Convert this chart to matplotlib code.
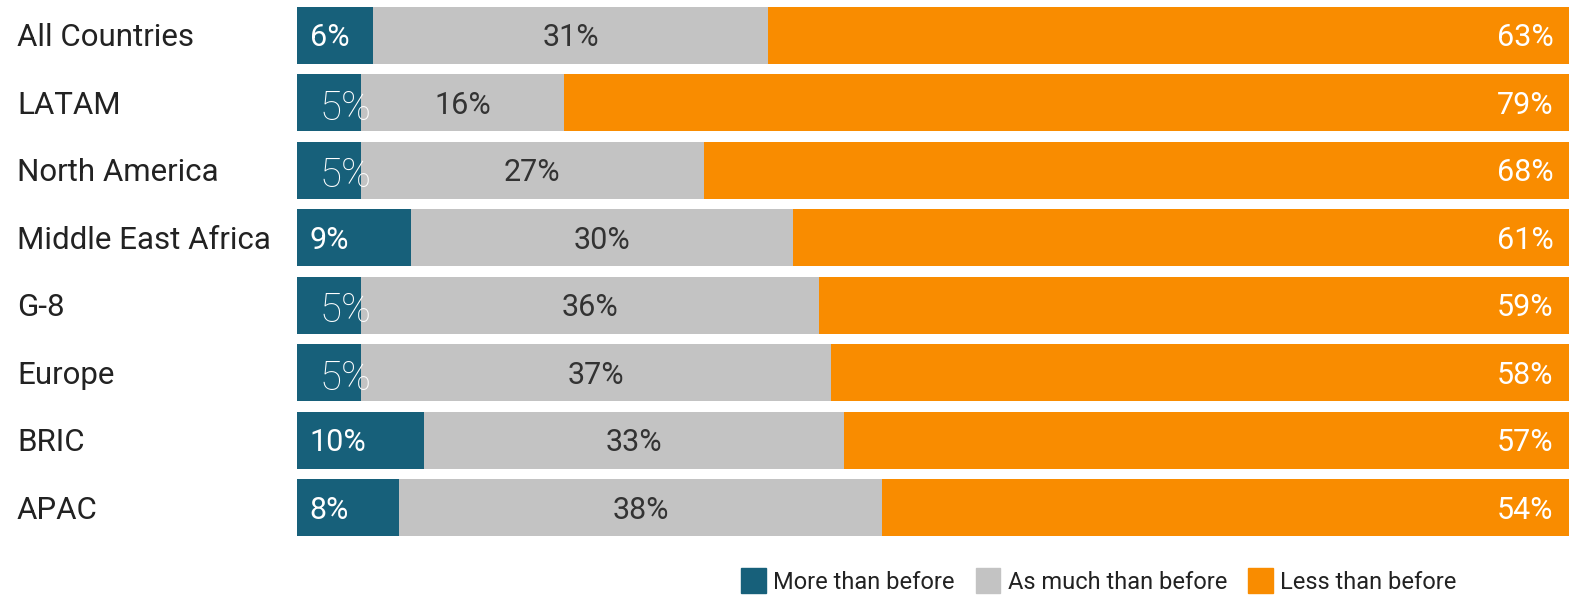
import numpy as np
import matplotlib
matplotlib.use("Agg")
from matplotlib import pyplot as plt
from matplotlib.patches import Patch
from matplotlib.transforms import blended_transform_factory

plt.rcParams['font.family'] = ['Roboto', 'DejaVu Sans']

# data
regions = ["All Countries", "LATAM", "North America", "Middle East Africa",
           "G-8", "Europe", "BRIC", "APAC"]
more = [6, 5, 5, 9, 5, 5, 10, 8]
same = [31, 16, 27, 30, 36, 37, 33, 38]
less = [63, 79, 68, 61, 59, 58, 57, 54]
series_names = ["More than before", "As much than before", "Less than before"]

BLUE = "#17607a"
GREY = "#c3c3c3"
ORANGE = "#f98c00"

fig = plt.figure(figsize=(15.85, 5.96), dpi=100)
ax = fig.add_axes([297 / 1585, 1 - 536 / 596, (1569 - 297) / 1585, (536 - 7) / 596])

y = np.arange(len(regions))
h = 0.84
more = np.array(more)
same = np.array(same)
less = np.array(less)

ax.barh(y, more, height=h, color=BLUE, edgecolor="none")
ax.barh(y, same, left=more, height=h, color=GREY, edgecolor="none")
ax.barh(y, less, left=more + same, height=h, color=ORANGE, edgecolor="none")

ax.set_xlim(0, 100)
ax.set_ylim(len(regions) - 1 + h / 2, -h / 2)
ax.axis("off")

# region names sit at the figure's left edge, level with each bar
label_tr = blended_transform_factory(fig.transFigure, ax.transData)
dy = 0.035  # text sits a touch below bar centre in the original

for i in range(len(regions)):
    ty = y[i] + dy
    # blue: left aligned inside segment; tiny ones drawn larger in light weight
    if more[i] <= 5:
        ax.text(1.8, ty + 0.05, f"{more[i]}%", color="white", fontsize=29,
                fontweight="light", ha="left", va="center")
    else:
        ax.text(1.0, ty, f"{more[i]}%", color="white", fontsize=22,
                ha="left", va="center")
    ax.text(more[i] + same[i] / 2, ty, f"{same[i]}%", color="#333333",
            fontsize=22, ha="center", va="center")
    ax.text(98.8, ty, f"{less[i]}%", color="white", fontsize=22,
            ha="right", va="center")
    ax.text(17 / 1585, ty, regions[i], transform=label_tr, fontsize=22.5,
            color="#222222", ha="left", va="center")

handles = [Patch(color=c) for c in (BLUE, GREY, ORANGE)]
fig.legend(handles, series_names, loc="center left",
           bbox_to_anchor=(741 / 1585, 1 - 581 / 596), ncol=3, frameon=False,
           fontsize=17, handlelength=1.05, handleheight=1.25,
           handletextpad=0.3, columnspacing=0.9, borderpad=0, borderaxespad=0,
           labelcolor="#222222")

fig.savefig("out.png", dpi=100)
